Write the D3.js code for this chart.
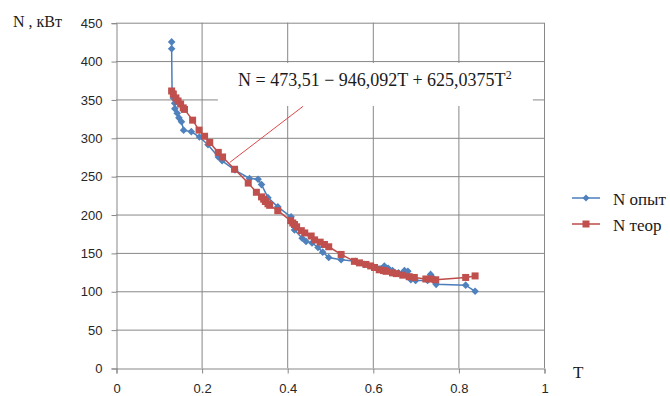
<!DOCTYPE html>
<html>
<head>
<meta charset="utf-8">
<script src="https://cdn.jsdelivr.net/npm/d3@7"></script>
<style>
  body { margin: 0; background: #fff; }
  svg { display: block; }
</style>
</head>
<body>
<div id="chart"></div>
<script>
// data
const tOpyt = [0.130, 0.130, 0.131, 0.134, 0.137, 0.1375, 0.143, 0.147, 0.153, 0.158, 0.176, 0.195,
  0.215, 0.239, 0.248, 0.278, 0.312, 0.332, 0.340, 0.355, 0.378, 0.409, 0.413, 0.417, 0.435, 0.444,
  0.458, 0.472, 0.483, 0.497, 0.526, 0.560, 0.580, 0.600, 0.627, 0.636, 0.646, 0.660, 0.674, 0.682,
  0.689, 0.700, 0.728, 0.735, 0.738, 0.745, 0.748, 0.817, 0.839];
const nOpyt = [425, 416, 361, 352, 345, 338, 332, 326, 321, 310, 308, 301,
  291, 275, 270, 258, 247, 246, 239, 222, 210, 197, 190, 180, 169, 165,
  163, 157, 151, 144, 141, 139, 135, 132, 133, 130, 127, 124, 127, 126,
  115, 114, 114, 122, 119, 112, 109, 108, 100];

const tTeor = [0.130, 0.134, 0.140, 0.145, 0.151, 0.157, 0.160, 0.179, 0.194, 0.207, 0.219, 0.239,
  0.249, 0.277, 0.309, 0.328, 0.340, 0.345, 0.349, 0.355, 0.359, 0.378, 0.408, 0.413, 0.417, 0.422,
  0.433, 0.441, 0.456, 0.464, 0.477, 0.487, 0.497, 0.526, 0.557, 0.569, 0.584, 0.595, 0.604, 0.615,
  0.625, 0.631, 0.646, 0.655, 0.670, 0.685, 0.697, 0.724, 0.735, 0.747, 0.817, 0.839];
const nTeor = [361, 357, 352, 348, 344, 339, 337, 323, 310, 302, 294, 281,
  275, 259, 241, 229, 223, 220, 217, 214, 212, 205, 192, 189, 187, 184,
  179, 176, 172, 167, 164, 161, 158, 148, 139, 137, 135, 133, 131, 128,
  127, 126, 124, 123, 121, 119, 118, 116, 116, 115, 118, 120];

const xTicks = [0, 0.2, 0.4, 0.6, 0.8, 1];
const yTicks = [0, 50, 100, 150, 200, 250, 300, 350, 400, 450];
const seriesNames = ["N опыт", "N теор"];
const equation = "N = 473,51 − 946,092T + 625,0375T";

const W = 670, H = 396;
const margin = { top: 22.7, left: 116, right: 126, bottom: 28 };
const width = W - margin.left - margin.right;
const height = H - margin.top - margin.bottom;

const svg = d3.select("#chart").append("svg")
  .attr("width", W).attr("height", H);
const g = svg.append("g").attr("transform", `translate(${margin.left},${margin.top})`);

const x = d3.scaleLinear().domain([0, 1]).range([0, width]);
const y = d3.scaleLinear().domain([0, 450]).range([height, 0]);

const gridColor = "#878787";

// gridlines
g.append("g").selectAll("line").data(yTicks.slice(1)).join("line")
  .attr("x1", 0).attr("x2", width)
  .attr("y1", d => y(d) + 0.5).attr("y2", d => y(d) + 0.5)
  .attr("stroke", gridColor).attr("stroke-width", 1);
g.append("g").selectAll("line").data(xTicks.slice(1)).join("line")
  .attr("y1", 0).attr("y2", height)
  .attr("x1", d => x(d) + 0.5).attr("x2", d => x(d) + 0.5)
  .attr("stroke", gridColor).attr("stroke-width", 1);

// axes
const xAxis = g.append("g")
  .attr("transform", `translate(0.5,${height + 0.5})`)
  .call(d3.axisBottom(x).tickValues(xTicks).tickSize(5).tickPadding(10)
    .tickFormat(d => String(d)));
const yAxis = g.append("g")
  .attr("transform", `translate(0.5,0.5)`)
  .call(d3.axisLeft(y).tickValues(yTicks).tickSize(5).tickPadding(9));
[xAxis, yAxis].forEach(a => {
  a.select(".domain").attr("stroke", gridColor);
  a.selectAll(".tick line").attr("stroke", gridColor);
  a.selectAll(".tick text")
    .style("font-family", "'Liberation Sans', Arial, sans-serif")
    .style("font-size", "13px")
    .attr("fill", "#262626");
});

// series
const opyt = tOpyt.map((t, i) => ({ t, n: nOpyt[i] }));
const teor = tTeor.map((t, i) => ({ t, n: nTeor[i] }));
const line = d3.line().x(d => x(d.t)).y(d => y(d.n));

const blueLine = "#4a7ebb", blueMark = "#4f81bd";
const redLine = "#be4b48", redMark = "#c0504d";
const diamond = r => `M0,${-r}L${r},0L0,${r}L${-r},0Z`;

g.append("path").datum(opyt)
  .attr("d", line).attr("fill", "none")
  .attr("stroke", blueLine).attr("stroke-width", 1.5);
g.append("g").selectAll("path").data(opyt).join("path")
  .attr("d", diamond(3.8))
  .attr("transform", d => `translate(${x(d.t)},${y(d.n)})`)
  .attr("fill", blueMark);

g.append("path").datum(teor)
  .attr("d", line).attr("fill", "none")
  .attr("stroke", redLine).attr("stroke-width", 1.5);
g.append("g").selectAll("rect").data(teor).join("rect")
  .attr("x", d => x(d.t) - 3.5).attr("y", d => y(d.n) - 3.5)
  .attr("width", 7).attr("height", 7)
  .attr("fill", redMark);

// equation box + connector
g.append("line")
  .attr("x1", x(0.266)).attr("y1", y(268))
  .attr("x2", x(0.437)).attr("y2", y(341))
  .attr("stroke", "#e0484a").attr("stroke-width", 1);
g.append("rect")
  .attr("x", x(0.238)).attr("y", y(397.5))
  .attr("width", x(0.974) - x(0.238)).attr("height", y(341.5) - y(397.5))
  .attr("fill", "#fff");
const eq = svg.append("text")
  .attr("x", 238).attr("y", 86)
  .style("font-family", "'Liberation Serif', 'DejaVu Serif', serif")
  .style("font-size", "18px")
  .attr("fill", "#1a1a1a");
eq.append("tspan").text(equation);
eq.append("tspan").text("2").attr("dy", -7).style("font-size", "12px");

// axis titles
svg.append("text")
  .attr("x", 13).attr("y", 27)
  .style("font-family", "'Liberation Serif', serif")
  .style("font-size", "16px")
  .attr("fill", "#1a1a1a")
  .text("N , кВт");
svg.append("text")
  .attr("x", 573).attr("y", 378)
  .style("font-family", "'Liberation Serif', serif")
  .style("font-size", "17px")
  .attr("fill", "#1a1a1a")
  .text("T");

// legend
const legend = svg.append("g").attr("transform", "translate(572,198)");
const items = legend.selectAll("g").data(seriesNames).join("g")
  .attr("transform", (d, i) => `translate(0,${i * 26})`);
items.append("line")
  .attr("x1", 0).attr("x2", 28).attr("y1", 0).attr("y2", 0)
  .attr("stroke", (d, i) => i ? redLine : blueLine).attr("stroke-width", 1.5);
items.filter((d, i) => i === 0).append("path")
  .attr("d", diamond(3.5)).attr("transform", "translate(14,0)").attr("fill", blueMark);
items.filter((d, i) => i === 1).append("rect")
  .attr("x", 10.5).attr("y", -3.5).attr("width", 7).attr("height", 7).attr("fill", redMark);
items.append("text")
  .attr("x", 41).attr("y", 7)
  .style("font-family", "'Liberation Serif', serif")
  .style("font-size", "17px")
  .attr("fill", "#1a1a1a")
  .text(d => d);
</script>
</body>
</html>
